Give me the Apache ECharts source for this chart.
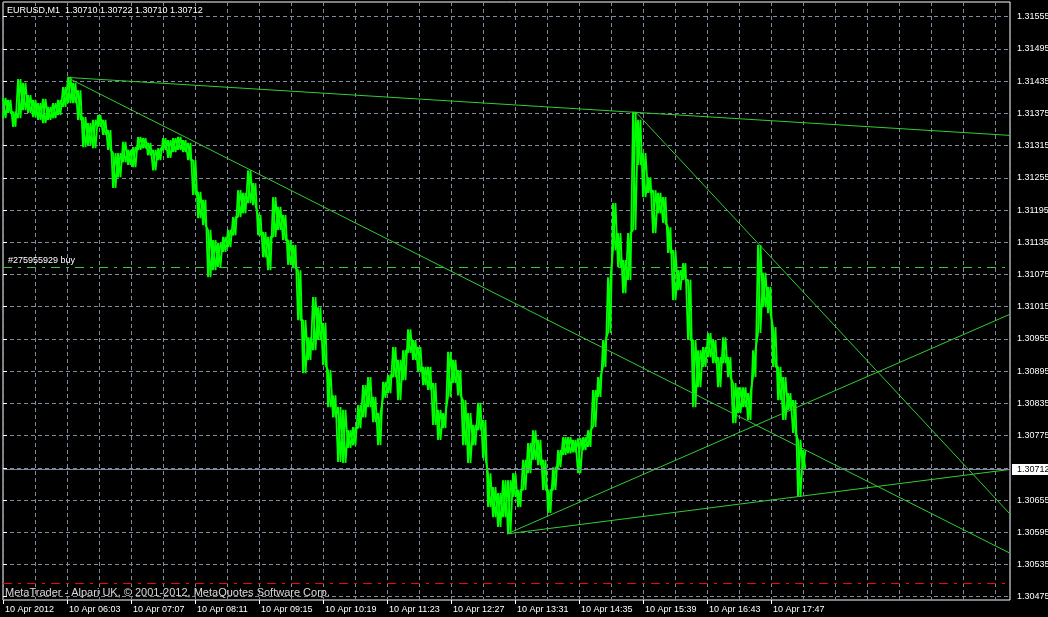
<!DOCTYPE html>
<html><head><meta charset="utf-8">
<script src="https://cdn.jsdelivr.net/npm/echarts@6/dist/echarts.min.js"></script>
<style>html,body{margin:0;padding:0;background:#000}#c{width:1048px;height:617px}</style>
</head><body><div id="c"></div>
<script>
// ---- data ----
const symbolName = 'EURUSD,M1';
const lastOHLC = [1.30710, 1.30722, 1.30710, 1.30712];
const copyrightText = 'MetaTrader - Alpari UK, \u00a9 2001-2012, MetaQuotes Software Corp.';
const barStep = 5; // minutes per aggregated bar, first bar = 10 Apr 04:59
const barHigh = [
1.31404,1.31400,1.31378,1.31439,1.31432,1.31409,1.31400,1.31394,1.31402,1.31387,
1.31394,1.31400,1.31424,1.31443,1.31432,1.31418,1.31368,1.31357,1.31363,1.31372,
1.31363,1.31344,1.31301,1.31301,1.31322,1.31307,1.31312,1.31331,1.31329,1.31320,
1.31307,1.31310,1.31329,1.31325,1.31329,1.31331,1.31325,1.31320,1.31288,1.31229,
1.31214,1.31158,1.31139,1.31134,1.31145,1.31158,1.31182,1.31232,1.31227,1.31269,
1.31245,1.31186,1.31154,1.31145,1.31219,1.31201,1.31186,1.31139,1.31130,1.31083,
1.30990,1.30958,1.31033,1.31014,1.30985,1.30897,1.30850,1.30828,1.30823,1.30785,
1.30791,1.30832,1.30869,1.30884,1.30847,1.30817,1.30875,1.30888,1.30940,1.30916,
1.30934,1.30973,1.30953,1.30940,1.30903,1.30903,1.30873,1.30823,1.30817,1.30931,
1.30916,1.30897,1.30841,1.30817,1.30795,1.30836,1.30804,1.30705,1.30679,1.30668,
1.30692,1.30692,1.30705,1.30674,1.30730,1.30761,1.30785,1.30767,1.30730,1.30674,
1.30716,1.30748,1.30772,1.30772,1.30767,1.30770,1.30772,1.30785,1.30860,1.30884,
1.30953,1.31070,1.31208,1.31152,1.31102,1.31152,1.31378,1.31363,1.31301,1.31256,
1.31232,1.31227,1.31219,1.31163,1.31120,1.31083,1.31096,1.31065,1.30953,1.30934,
1.30940,1.30966,1.30953,1.30921,1.30958,1.30921,1.30873,1.30865,1.30865,1.30854,
1.30934,1.31130,1.31078,1.31052,1.30977,1.30903,1.30884,1.30854,1.30841,1.30767,
1.30748];
const barLow = [
1.31366,1.31376,1.31350,1.31366,1.31381,1.31376,1.31368,1.31363,1.31357,1.31363,
1.31366,1.31372,1.31387,1.31394,1.31394,1.31363,1.31312,1.31316,1.31310,1.31350,
1.31335,1.31307,1.31236,1.31256,1.31284,1.31279,1.31275,1.31307,1.31310,1.31297,
1.31269,1.31288,1.31307,1.31292,1.31303,1.31307,1.31303,1.31288,1.31223,1.31180,
1.31167,1.31070,1.31083,1.31089,1.31117,1.31126,1.31148,1.31182,1.31189,1.31208,
1.31204,1.31148,1.31107,1.31083,1.31145,1.31158,1.31139,1.31093,1.31087,1.30990,
1.30891,1.30916,1.30934,1.30953,1.30906,1.30828,1.30809,1.30726,1.30724,1.30752,
1.30757,1.30789,1.30809,1.30828,1.30800,1.30757,1.30845,1.30854,1.30884,1.30841,
1.30878,1.30929,1.30916,1.30893,1.30869,1.30860,1.30795,1.30767,1.30789,1.30847,
1.30873,1.30850,1.30757,1.30724,1.30757,1.30785,1.30733,1.30642,1.30623,1.30605,
1.30623,1.30592,1.30661,1.30642,1.30674,1.30705,1.30730,1.30720,1.30674,1.30631,
1.30674,1.30716,1.30739,1.30742,1.30744,1.30705,1.30748,1.30754,1.30791,1.30847,
1.30903,1.30966,1.31120,1.31089,1.31040,1.31065,1.31158,1.31279,1.31219,1.31227,
1.31152,1.31189,1.31171,1.31115,1.31027,1.31046,1.31065,1.30953,1.30828,1.30865,
1.30903,1.30921,1.30910,1.30865,1.30910,1.30884,1.30798,1.30817,1.30828,1.30804,
1.30884,1.30966,1.31014,1.31003,1.30903,1.30841,1.30804,1.30823,1.30780,1.30661,
1.30711];
const timeLabels = ['10 Apr 2012','10 Apr 06:03','10 Apr 07:07','10 Apr 08:11','10 Apr 09:15',
  '10 Apr 10:19','10 Apr 11:23','10 Apr 12:27','10 Apr 13:31','10 Apr 14:35','10 Apr 15:39',
  '10 Apr 16:43','10 Apr 17:47'];
const timeLabelMinutes = [0,64,128,192,256,320,384,448,512,576,640,704,768];
const priceTicks = [1.30475,1.30535,1.30595,1.30655,1.30715,1.30775,1.30835,1.30895,1.30955,
  1.31015,1.31075,1.31135,1.31195,1.31255,1.31315,1.31375,1.31435,1.31495,1.31555];
const trendLines = [
  [[64,1.31442],[1007,1.31334]],
  [[64,1.31442],[1007,1.30556]],
  [[633,1.31377],[1007,1.30629]],
  [[504,1.30592],[1007,1.31001]],
  [[504,1.30592],[1007,1.30712]]
];
const orderPrice = 1.31088;
const orderLabel = '#275955929 buy';
const stopPrice = 1.30500;
const bidPrice = 1.30712;
const visibleMinutes = [0, 1007];
const priceRange = [1.304689, 1.315824];

// ---- chart ----
const FONT = '"Liberation Sans", Arial, sans-serif';
const GRID = '#7f8a9a';
const chart = echarts.init(document.getElementById('c'), null, {renderer:'canvas'});
const zigA = [], zigB = [];
for (let i = 0; i < barHigh.length; i++) {
  zigA.push([i*barStep, barHigh[i]]);
  zigA.push([i*barStep + barStep/2, barLow[i]]);
  zigB.push([i*barStep, barLow[i]]);
  zigB.push([i*barStep + barStep/2, barHigh[i]]);
}
const series = [{
  type:'line', xAxisIndex:1, yAxisIndex:0, data:zigA, symbol:'none', z:3,
  lineStyle:{color:'#00ff00', width:1.8}, animation:false,
  markLine:{silent:true, symbol:'none', animation:false, precision:5, data:[
    {yAxis:orderPrice, lineStyle:{color:'#32cd32', type:[9,6,3,6], width:1},
     label:{show:true, position:'insideStartTop', formatter:orderLabel, color:'#fff', fontSize:9, fontFamily:FONT, distance:[5,2]}},
    {yAxis:stopPrice, lineStyle:{color:'#ff0000', type:[9,6,3,6], width:1}, label:{show:false}},
    {yAxis:bidPrice, lineStyle:{color:GRID, type:'solid', width:1},
     label:{show:true, position:'end', formatter:bidPrice.toFixed(5), color:'#000', backgroundColor:'#fff', fontSize:9, fontFamily:FONT, padding:[1,4,1,5], distance:2}}
  ]}
}, {
  type:'line', xAxisIndex:1, yAxisIndex:0, data:zigB, symbol:'none', z:3,
  lineStyle:{color:'#00ff00', width:1.8}, animation:false
}];
trendLines.forEach(tl => series.push({
  type:'line', xAxisIndex:1, yAxisIndex:0, data:tl, symbol:'none', z:4, animation:false,
  lineStyle:{color:'#32cd32', width:1}
}));
chart.setOption({
  backgroundColor:'#000',
  animation:false,
  title:[{text: symbolName + '  ' + lastOHLC.map(v => v.toFixed(5)).join(' '), left:7, top:6, padding:0,
    textStyle:{color:'#fff', fontSize:9, fontWeight:'normal', fontFamily:FONT}}],
  graphic:[{type:'text', left:5, top:587, z:10, style:{text:copyrightText, fill:'#d8d8d8', font:'11px ' + FONT}}],
  grid:{left:3, right:38, top:2, bottom:17, show:true, borderColor:'#fff', borderWidth:1, backgroundColor:'#000',
    containLabel:false, outerBoundsMode:'none'},
  xAxis:[
    {type:'value', position:'top', min:visibleMinutes[0], max:visibleMinutes[1], interval:32,
     axisLine:{show:false}, axisTick:{show:false}, axisLabel:{show:false},
     splitLine:{show:true, lineStyle:{color:GRID, type:[4,3], width:1}}},
    {type:'value', position:'bottom', min:visibleMinutes[0], max:visibleMinutes[1],
     axisLine:{show:false},
     axisTick:{show:true, customValues:timeLabelMinutes, length:4, lineStyle:{color:'#fff'}},
     axisLabel:{customValues:timeLabelMinutes, formatter:v => timeLabels[timeLabelMinutes.indexOf(v)] || '',
       color:'#fff', fontSize:9, fontFamily:FONT, align:'left', margin:5, padding:[0,0,0,2]},
     splitLine:{show:false}}
  ],
  yAxis:[{type:'value', position:'right', min:priceRange[0], max:priceRange[1],
    axisLine:{show:false},
    axisTick:{show:true, customValues:priceTicks, length:4, lineStyle:{color:'#fff'}},
    axisLabel:{customValues:priceTicks, formatter:v => v.toFixed(5), color:'#fff', fontSize:9, fontFamily:FONT, margin:7},
    splitLine:{show:true, lineStyle:{color:GRID, type:[4,3], width:1}}}],
  series:series
});
</script></body></html>
